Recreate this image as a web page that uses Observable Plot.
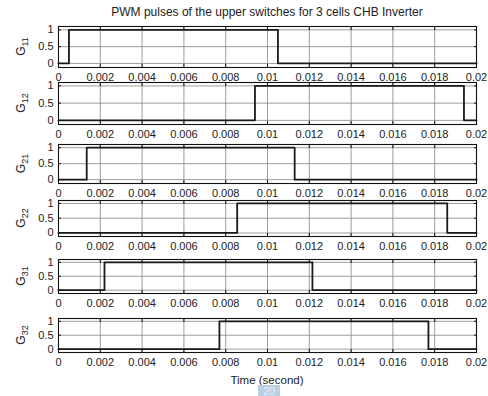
<!DOCTYPE html>
<html>
<head>
<meta charset="utf-8">
<script src="https://cdn.jsdelivr.net/npm/d3@7"></script>
<script src="https://cdn.jsdelivr.net/npm/@observablehq/plot@0.6"></script>
<style>
  body { margin: 0; background: #fff; }
  #wrap { position: relative; width: 488px; height: 396px; overflow: hidden; font-family: "Liberation Sans", Arial, Helvetica, sans-serif; color: #222; }
  .abs { position: absolute; }
  .title { left: 58px; width: 418px; top: 5px; text-align: center; font-size: 12px; }
  .xlabel { left: 58px; width: 418px; top: 374px; text-align: center; font-size: 11.5px; }
  .page { left: 258px; top: 385px; width: 22px; height: 12px; background: #b9cfe4; color: #e8f0f8; font-size: 11px; text-align: center; line-height: 13px; }
</style>
</head>
<body>
<div id="wrap"></div>
<script>
// ---- data ----
const gateNames = ["11", "12", "21", "22", "31", "32"];
const riseTimes = [0.0005, 0.0094, 0.00135, 0.00855, 0.0022, 0.0077];
const fallTimes = [0.0105, 0.0194, 0.0113, 0.0186, 0.01215, 0.0177];
const tStart = 0;
const tEnd = 0.02;
const xTicks = [0, 0.002, 0.004, 0.006, 0.008, 0.01, 0.012, 0.014, 0.016, 0.018, 0.02];
const xTickLabels = ["0", "0.002", "0.004", "0.006", "0.008", "0.01", "0.012", "0.014", "0.016", "0.018", "0.02"];
const yTicks = [0, 0.5, 1];
const yTickLabels = ["0", "0.5", "1"];
const titleText = "PWM pulses of the upper switches for 3 cells CHB Inverter";
const xLabelText = "Time (second)";

// ---- layout ----
const frameTops = [26, 82, 144, 200, 259, 318];
const frameBottoms = [67, 124, 183, 236, 293, 352];
const mt = 4, mb = 22;

const wrap = document.getElementById("wrap");

const t = document.createElement("div");
t.className = "abs title"; t.textContent = titleText; wrap.appendChild(t);

const blank = () => "";

gateNames.forEach((g, i) => {
  const pts = [
    {t: tStart, v: 0},
    {t: riseTimes[i], v: 1},
    {t: fallTimes[i], v: 0},
    {t: tEnd, v: 0}
  ];
  const fh = frameBottoms[i] - frameTops[i];
  const plot = Plot.plot({
    width: 488,
    height: fh + mt + mb,
    marginLeft: 58, marginRight: 12, marginTop: mt, marginBottom: mb,
    style: {background: "transparent", overflow: "visible", fontSize: "11px", fontFamily: "Liberation Sans, Arial, Helvetica, sans-serif", color: "#222"},
    x: {domain: [tStart, tEnd]},
    y: {domain: [-0.12, 1.1]},
    marks: [
      Plot.gridX(xTicks, {stroke: "#858585", strokeOpacity: 1, strokeWidth: 0.8}),
      Plot.gridY(yTicks, {stroke: "#858585", strokeOpacity: 1, strokeWidth: 0.8}),
      Plot.axisX({anchor: "bottom", ticks: xTicks, tickSize: -3, tickPadding: 9, tickFormat: d => xTickLabels[xTicks.indexOf(d)], label: null, stroke: "#111"}),
      Plot.axisX({anchor: "top", ticks: xTicks, tickSize: -3, tickFormat: blank, label: null, stroke: "#111"}),
      Plot.axisY({anchor: "left", ticks: yTicks, tickSize: -3, tickPadding: 8, tickFormat: d => yTickLabels[yTicks.indexOf(d)], label: null, stroke: "#111"}),
      Plot.axisY({anchor: "right", ticks: yTicks, tickSize: -3, tickFormat: blank, label: null, stroke: "#111"}),
      Plot.line(pts, {x: "t", y: "v", curve: "step-after", stroke: "#1a1a1a", strokeWidth: 1.8}),
      Plot.frame({stroke: "#111", strokeWidth: 1.1})
    ]
  });
  plot.style.position = "absolute";
  plot.style.left = "0px";
  plot.style.top = (frameTops[i] - mt) + "px";
  const svg = d3.select(plot);
  const lab = svg.append("text")
    .attr("transform", `translate(25,${mt + fh / 2}) rotate(-90)`)
    .attr("text-anchor", "middle")
    .attr("fill", "#222")
    .attr("font-family", "Liberation Sans, Arial, Helvetica, sans-serif");
  lab.append("tspan").attr("font-size", "12px").text("G");
  lab.append("tspan").attr("font-size", "9px").attr("dy", "3").text(g);
  wrap.appendChild(plot);
});

const xl = document.createElement("div");
xl.className = "abs xlabel"; xl.textContent = xLabelText; wrap.appendChild(xl);

const pg = document.createElement("div");
pg.className = "abs page"; pg.textContent = "20"; wrap.appendChild(pg);
</script>
</body>
</html>
